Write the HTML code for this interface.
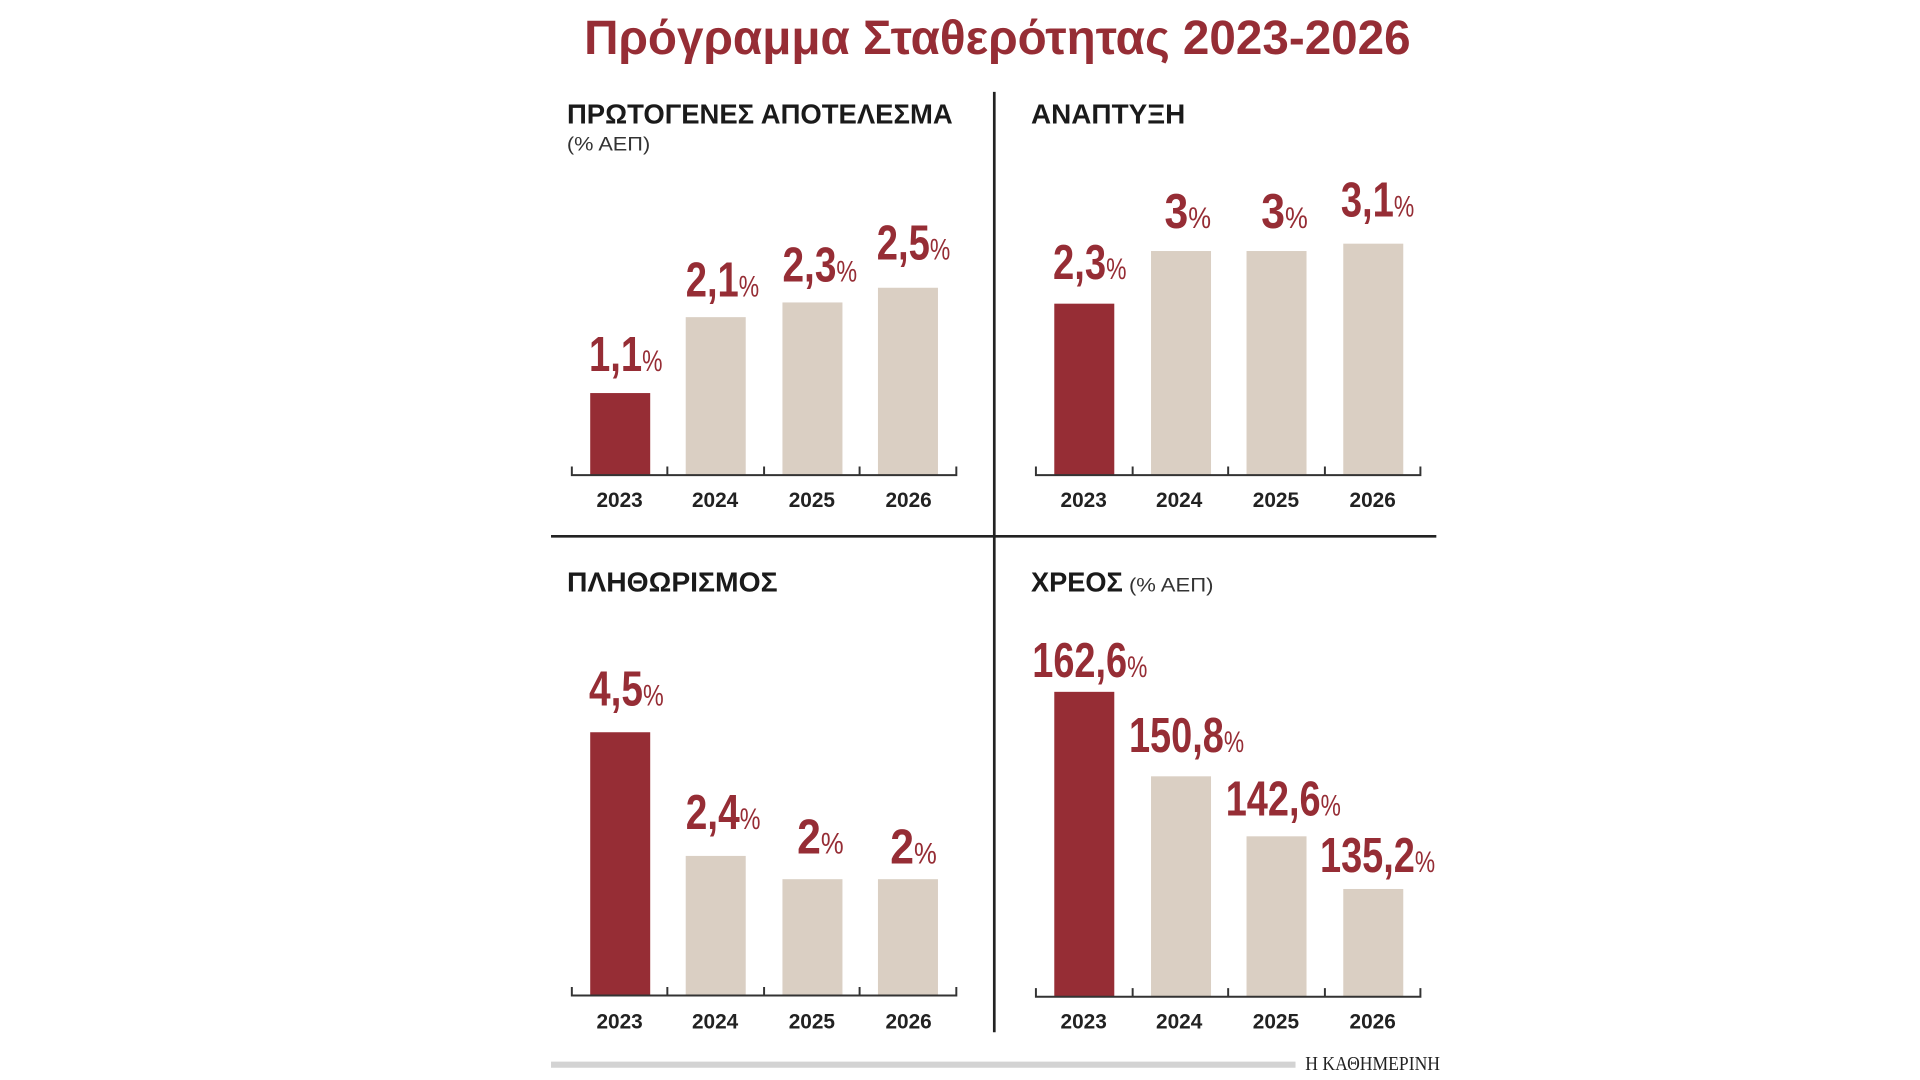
<!DOCTYPE html>
<html><head><meta charset="utf-8"><style>
html,body{margin:0;padding:0;background:#fff;width:1920px;height:1080px;overflow:hidden}
svg{display:block}
text{font-family:"Liberation Sans",sans-serif}
text.serif{font-family:"Liberation Serif",serif}
.v{font-weight:bold;fill:#962d35;font-size:40px}
.v tspan.p{font-size:24px;font-weight:normal}
.y{font-weight:bold;fill:#222;font-size:17px}
.h{font-weight:bold;fill:#1a1a1a;font-size:23px}
.s{fill:#333;font-size:16px}
</style></head><body>
<svg width="1920" height="1080" viewBox="0 0 1568 882" preserveAspectRatio="none">
<text x="477" y="44" font-size="39" font-weight="bold" fill="#962d35" textLength="675" lengthAdjust="spacingAndGlyphs">Πρόγραμμα Σταθερότητας 2023-2026</text>

<line x1="812" y1="75" x2="812" y2="843" stroke="#222" stroke-width="2.2"/>
<line x1="450" y1="438" x2="1173" y2="438" stroke="#222" stroke-width="2.2"/>

<!-- Panel 1 -->
<text class="h" x="463" y="101" textLength="315" lengthAdjust="spacingAndGlyphs">ΠΡΩΤΟΓΕΝΕΣ ΑΠΟΤΕΛΕΣΜΑ</text>
<text class="s" x="463" y="123" textLength="68" lengthAdjust="spacingAndGlyphs">(% ΑΕΠ)</text>
<rect x="482" y="321" width="49" height="67" fill="#962d35"/>
<rect x="560" y="259" width="49" height="129" fill="#dacfc3"/>
<rect x="639" y="247" width="49" height="141" fill="#dacfc3"/>
<rect x="717" y="235" width="49" height="153" fill="#dacfc3"/>
<path d="M467 381V388H781V381M545 381V388M624 381V388M702 381V388" fill="none" stroke="#333" stroke-width="1.6"/>
<text class="v" x="481" y="303" textLength="60" lengthAdjust="spacingAndGlyphs">1,1<tspan class="p">%</tspan></text>
<text class="v" x="560" y="242" textLength="60" lengthAdjust="spacingAndGlyphs">2,1<tspan class="p">%</tspan></text>
<text class="v" x="639" y="230" textLength="61" lengthAdjust="spacingAndGlyphs">2,3<tspan class="p">%</tspan></text>
<text class="v" x="716" y="212" textLength="60" lengthAdjust="spacingAndGlyphs">2,5<tspan class="p">%</tspan></text>
<g text-anchor="middle">
<text class="y" x="506" y="414">2023</text><text class="y" x="584" y="414">2024</text><text class="y" x="663" y="414">2025</text><text class="y" x="742" y="414">2026</text></g>

<!-- Panel 2 -->
<text class="h" x="842" y="101" textLength="126" lengthAdjust="spacingAndGlyphs">ΑΝΑΠΤΥΞΗ</text>
<rect x="861" y="248" width="49" height="140" fill="#962d35"/>
<rect x="940" y="205" width="49" height="183" fill="#dacfc3"/>
<rect x="1018" y="205" width="49" height="183" fill="#dacfc3"/>
<rect x="1097" y="199" width="49" height="189" fill="#dacfc3"/>
<path d="M846 381V388H1160V381M925 381V388M1003 381V388M1082 381V388" fill="none" stroke="#333" stroke-width="1.6"/>
<text class="v" x="860" y="228" textLength="60" lengthAdjust="spacingAndGlyphs">2,3<tspan class="p">%</tspan></text>
<text class="v" x="951" y="186" textLength="38" lengthAdjust="spacingAndGlyphs">3<tspan class="p">%</tspan></text>
<text class="v" x="1030" y="186" textLength="38" lengthAdjust="spacingAndGlyphs">3<tspan class="p">%</tspan></text>
<text class="v" x="1095" y="177" textLength="60" lengthAdjust="spacingAndGlyphs">3,1<tspan class="p">%</tspan></text>
<g text-anchor="middle">
<text class="y" x="885" y="414">2023</text><text class="y" x="963" y="414">2024</text><text class="y" x="1042" y="414">2025</text><text class="y" x="1121" y="414">2026</text></g>

<!-- Panel 3 -->
<text class="h" x="463" y="483" textLength="172" lengthAdjust="spacingAndGlyphs">ΠΛΗΘΩΡΙΣΜΟΣ</text>
<rect x="482" y="598" width="49" height="215" fill="#962d35"/>
<rect x="560" y="699" width="49" height="114" fill="#dacfc3"/>
<rect x="639" y="718" width="49" height="95" fill="#dacfc3"/>
<rect x="717" y="718" width="49" height="95" fill="#dacfc3"/>
<path d="M467 806V813H781V806M545 806V813M624 806V813M702 806V813" fill="none" stroke="#333" stroke-width="1.6"/>
<text class="v" x="481" y="576" textLength="61" lengthAdjust="spacingAndGlyphs">4,5<tspan class="p">%</tspan></text>
<text class="v" x="560" y="677" textLength="61" lengthAdjust="spacingAndGlyphs">2,4<tspan class="p">%</tspan></text>
<text class="v" x="651" y="697" textLength="38" lengthAdjust="spacingAndGlyphs">2<tspan class="p">%</tspan></text>
<text class="v" x="727" y="705" textLength="38" lengthAdjust="spacingAndGlyphs">2<tspan class="p">%</tspan></text>
<g text-anchor="middle">
<text class="y" x="506" y="840">2023</text><text class="y" x="584" y="840">2024</text><text class="y" x="663" y="840">2025</text><text class="y" x="742" y="840">2026</text></g>

<!-- Panel 4 -->
<text class="h" x="842" y="483" textLength="75" lengthAdjust="spacingAndGlyphs">ΧΡΕΟΣ</text>
<text class="s" x="922" y="483" textLength="69" lengthAdjust="spacingAndGlyphs">(% ΑΕΠ)</text>
<rect x="861" y="565" width="49" height="249" fill="#962d35"/>
<rect x="940" y="634" width="49" height="180" fill="#dacfc3"/>
<rect x="1018" y="683" width="49" height="131" fill="#dacfc3"/>
<rect x="1097" y="726" width="49" height="88" fill="#dacfc3"/>
<path d="M846 807V814H1160V807M925 807V814M1003 807V814M1082 807V814" fill="none" stroke="#333" stroke-width="1.6"/>
<text class="v" x="843" y="553" textLength="94" lengthAdjust="spacingAndGlyphs">162,6<tspan class="p">%</tspan></text>
<text class="v" x="922" y="614" textLength="94" lengthAdjust="spacingAndGlyphs">150,8<tspan class="p">%</tspan></text>
<text class="v" x="1001" y="666" textLength="94" lengthAdjust="spacingAndGlyphs">142,6<tspan class="p">%</tspan></text>
<text class="v" x="1078" y="712" textLength="94" lengthAdjust="spacingAndGlyphs">135,2<tspan class="p">%</tspan></text>
<g text-anchor="middle">
<text class="y" x="885" y="840">2023</text><text class="y" x="963" y="840">2024</text><text class="y" x="1042" y="840">2025</text><text class="y" x="1121" y="840">2026</text></g>

<!-- footer -->
<rect x="450" y="867" width="608" height="5" fill="#d3d3d3"/>
<text class="serif" x="1066" y="874" font-size="16" fill="#222" textLength="110" lengthAdjust="spacingAndGlyphs">Η ΚΑΘΗΜΕΡΙΝΗ</text>
</svg>
</body></html>
